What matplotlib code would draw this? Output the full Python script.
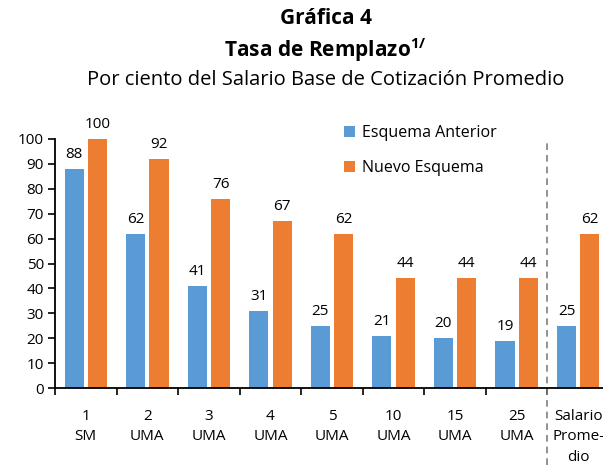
import matplotlib
matplotlib.use("Agg")
import matplotlib.pyplot as plt
import numpy as np

categories = ["1\nSM", "2\nUMA", "3\nUMA", "4\nUMA", "5\nUMA", "10\nUMA", "15\nUMA", "25\nUMA", "Salario\nProme-\ndio"]
anterior = [88, 62, 41, 31, 25, 21, 20, 19, 25]
nuevo = [100, 92, 76, 67, 62, 44, 44, 44, 62]
series_names = ["Esquema Anterior", "Nuevo Esquema"]
yticks = list(range(0, 101, 10))

FONT = "Open Sans"
plt.rcParams['font.family'] = [FONT, 'DejaVu Sans']
plt.rcParams['mathtext.fontset'] = 'custom'
plt.rcParams['mathtext.bf'] = FONT + ':bold'
plt.rcParams['mathtext.rm'] = FONT

blue = "#5B9BD5"
orange = "#ED7D31"

fig = plt.figure(figsize=(6.03, 4.66), dpi=100)
ax = fig.add_axes([55/603, 1-388/466, 554/603, (388-139)/466])

x = np.arange(len(categories)) + 0.5
w = 0.31
b1 = ax.bar(x - 0.19, anterior, w, color=blue)
b2 = ax.bar(x + 0.19, nuevo, w, color=orange)
for bars, vals in ((b1, anterior), (b2, nuevo)):
    for r, v in zip(bars, vals):
        ax.annotate(str(v), (r.get_x() + r.get_width()/2, v), xytext=(0, 5),
                    textcoords="offset points", ha="center", va="bottom", fontsize=11)

ax.set_xlim(0, len(categories))
ax.set_ylim(0, 100)
ax.set_yticks(yticks)
ax.set_xticks(x)
ax.set_xticklabels(categories, fontsize=11, linespacing=1.5)
ax.set_xticks(np.arange(len(categories)), minor=True)
ax.tick_params(axis='x', which='major', length=0, pad=15)
ax.tick_params(axis='x', which='minor', length=5, width=1.2, direction='out')
ax.tick_params(axis='y', length=5, width=1.2, labelsize=11, pad=3)
for s in ['top', 'right']:
    ax.spines[s].set_visible(False)
for s in ['left', 'bottom']:
    ax.spines[s].set_linewidth(1.3)

ax.plot([8, 8], [-31, 100], linestyle=(0, (4, 3)), color="#7f7f7f", lw=1.2, clip_on=False)

leg = fig.legend([b1, b2], series_names, loc="upper left", bbox_to_anchor=(336/603, 1-117/466),
                 frameon=False, fontsize=11.5, handlelength=0.7, handleheight=0.7,
                 labelspacing=1.2, handletextpad=0.4, borderpad=0)

fig.text(0.54, 1-18/466, "Gráfica 4", ha="center", va="center", fontsize=15, fontweight="bold")
fig.text(0.54, 1-50/466, r"Tasa de Remplazo$^{\mathbf{1/}}$", ha="center", va="center",
         fontsize=15, fontweight="bold")
fig.text(0.54, 1-80/466, "Por ciento del Salario Base de Cotización Promedio", ha="center",
         va="center", fontsize=14.5)

fig.savefig("out.png", dpi=100)
